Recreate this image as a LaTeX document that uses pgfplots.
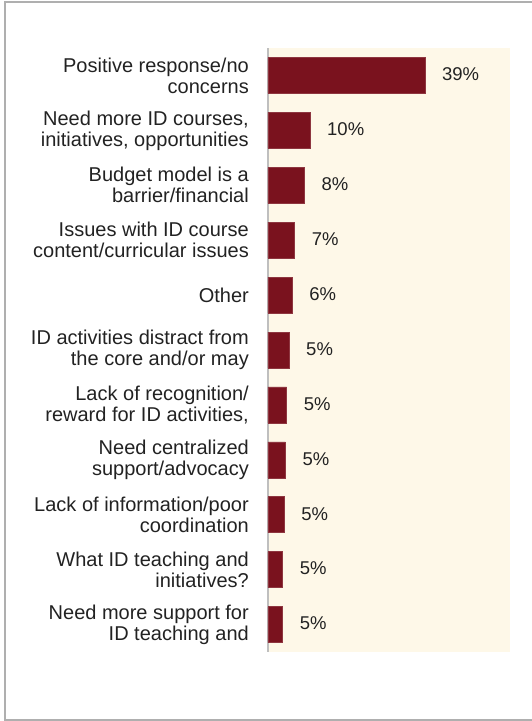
\documentclass[border=0pt]{standalone}
\usepackage{pgfplots}
\pgfplotsset{compat=1.18}
\usepackage{fontspec}
\setmainfont{Liberation Sans}
\definecolor{barred}{RGB}{122,18,30}
\definecolor{beige}{RGB}{254,248,232}
\definecolor{framegray}{RGB}{175,175,175}
\definecolor{txt}{RGB}{34,34,34}
\begin{document}
\begin{tikzpicture}
\useasboundingbox (0,0) rectangle (532pt,721pt);
\draw[framegray, line width=1.2pt] (540pt,719pt) -- (5pt,719pt) -- (5pt,1pt) -- (540pt,1pt);
\begin{axis}[
  at={(268pt,69pt)}, anchor=south west,
  scale only axis, width=242pt, height=604pt,
  xmin=0, xmax=60,
  ymin=-0.5, ymax=10.5, y dir=reverse,
  axis x line=none,
  axis y line*=left,
  y axis line style={draw=black!25, line width=1.5pt},
  axis background/.style={fill=beige},
  xbar, bar width=36pt,
  ytick={0,...,10},
  major tick length=0pt,
  yticklabels={
    {Positive response/no\\concerns},
    {Need more ID courses,\\initiatives, opportunities},
    {Budget model is a\\barrier/financial},
    {Issues with ID course\\content/curricular issues},
    {Other},
    {ID activities distract from\\the core and/or may},
    {Lack of recognition/\\reward for ID activities,},
    {Need centralized\\support/advocacy},
    {Lack of information/poor\\coordination},
    {What ID teaching and\\initiatives?},
    {Need more support for\\ID teaching and}},
  yticklabel style={align=right, inner sep=0pt, xshift=-19pt, text=txt,
    font=\fontsize{20}{21}\selectfont},
  point meta=explicit,
  /pgf/number format/assume math mode=true,
  nodes near coords={\pgfmathprintnumber{\pgfplotspointmeta}\%},
  nodes near coords style={anchor=west, inner sep=0pt, xshift=17pt, yshift=1pt, text=txt,
    font=\fontsize{18.5}{20}\selectfont},
  clip=false,
]
\addplot[fill=barred, draw=barred!85!white, line width=0.5pt] table[x=x, y=y, meta=m] {
x y m
38.9 0 39
10.4 1 10
9.0 2 8
6.6 3 7
6.0 4 6
5.2 5 5
4.6 6 5
4.3 7 5
4.0 8 5
3.6 9 5
3.6 10 5
};
\end{axis}
\end{tikzpicture}
\end{document}
